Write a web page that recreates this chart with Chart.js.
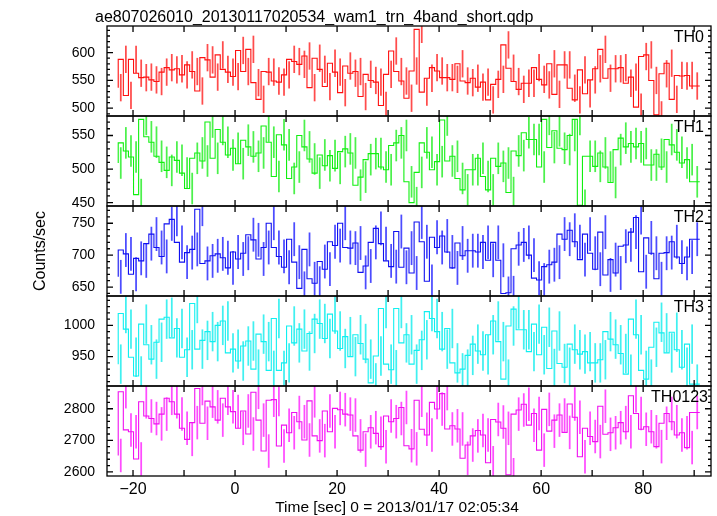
<!DOCTYPE html>
<html>
<head>
<meta charset="utf-8">
<script src="https://cdn.jsdelivr.net/npm/chart.js@4.4.1/dist/chart.umd.min.js"></script>
<style>
  html, body { margin: 0; padding: 0; background: #fff; }
  #wrap { width: 717px; height: 516px; }
</style>
</head>
<body>
<div id="wrap"><canvas id="lc" width="717" height="516"></canvas></div>
<script>
var fileTitle = 'ae807026010_20130117020534_wam1_trn_4band_short.qdp';
var timeLabel = 'Time [sec] 0 = 2013/01/17 02:05:34';
var bandNames = ['TH0', 'TH1', 'TH2', 'TH3', 'TH0123'];

// 1 s bins, first bin starts here
var binStart = -22.9;
var binWidth = 1;

var th0 = [537, 588, 523, 588, 563, 555, 556, 551, 548, 565, 573, 569, 571, 560, 578, 566, 531, 591, 587, 556,
  596, 570, 565, 557, 604, 566, 606, 546, 516, 566, 565, 549, 547, 560, 588, 584, 579, 594, 537, 590,
  570, 539, 581, 565, 528, 576, 563, 566, 521, 561, 550, 547, 505, 561, 603, 566, 549, 518, 567, 642,
  529, 554, 573, 567, 555, 555, 552, 580, 549, 546, 554, 538, 547, 515, 543, 552, 614, 572, 548, 534,
  545, 545, 573, 552, 542, 580, 525, 578, 578, 536, 515, 569, 526, 551, 571, 606, 554, 571, 571, 573,
  545, 556, 502, 593, 596, 550, 488, 562, 581, 516, 559, 558, 559, 540];
var th1 = [509, 539, 527, 518, 462, 574, 548, 540, 519, 510, 498, 518, 513, 494, 471, 516, 524, 512, 570, 516,
  559, 540, 521, 531, 508, 543, 533, 519, 524, 564, 540, 489, 551, 536, 486, 503, 550, 533, 515, 494,
  521, 505, 520, 501, 526, 530, 524, 476, 488, 514, 523, 523, 503, 499, 535, 539, 550, 481, 450, 495,
  539, 525, 499, 511, 573, 512, 519, 486, 469, 499, 499, 516, 489, 469, 516, 504, 509, 465, 527, 520,
  554, 544, 544, 503, 574, 532, 557, 531, 529, 550, 574, 446, 519, 519, 504, 524, 503, 480, 529, 546,
  533, 538, 533, 538, 506, 506, 522, 503, 544, 536, 525, 509, 514, 481];
var th2 = [666, 708, 702, 670, 695, 691, 718, 733, 712, 698, 749, 756, 720, 689, 704, 709, 772, 687, 691, 699,
  702, 696, 680, 705, 694, 703, 732, 724, 694, 712, 750, 712, 698, 681, 725, 689, 648, 709, 663, 656,
  690, 678, 721, 715, 750, 712, 711, 719, 673, 683, 720, 742, 718, 691, 682, 737, 681, 711, 672, 752,
  721, 659, 728, 712, 730, 705, 680, 719, 699, 707, 707, 705, 720, 692, 720, 692, 640, 641, 710, 716,
  720, 700, 664, 661, 682, 685, 689, 733, 725, 739, 721, 693, 733, 703, 678, 736, 669, 693, 672, 714,
  716, 736, 759, 674, 727, 703, 663, 703, 704, 721, 697, 687, 697, 725];
var th3 = [938, 1019, 994, 949, 919, 1002, 969, 946, 973, 1010, 1013, 980, 995, 949, 961, 1035, 962, 976, 990, 974,
  1000, 1007, 956, 962, 943, 967, 975, 930, 986, 974, 928, 1011, 928, 940, 999, 972, 994, 959, 987, 1010,
  1003, 979, 1018, 991, 963, 982, 950, 985, 971, 946, 908, 951, 1027, 938, 929, 1027, 972, 985, 938, 960,
  977, 1022, 1011, 990, 962, 995, 940, 924, 930, 952, 970, 959, 953, 985, 1007, 974, 914, 999, 1026, 993,
  993, 958, 1002, 953, 997, 931, 991, 939, 933, 970, 961, 954, 958, 940, 940, 945, 990, 978, 969, 955,
  922, 1010, 985, 928, 914, 965, 1005, 988, 956, 989, 961, 933, 970, 906];
var th0123 = [2652, 2854, 2733, 2727, 2641, 2822, 2777, 2769, 2752, 2783, 2833, 2822, 2783, 2738, 2703, 2756, 2864, 2754, 2824, 2806,
  2764, 2833, 2806, 2791, 2738, 2793, 2720, 2852, 2764, 2666, 2827, 2829, 2682, 2748, 2724, 2788, 2759, 2701, 2825, 2714,
  2699, 2793, 2727, 2801, 2797, 2783, 2780, 2714, 2669, 2727, 2740, 2722, 2680, 2777, 2759, 2769, 2804, 2683, 2673, 2827,
  2735, 2717, 2820, 2799, 2848, 2736, 2746, 2736, 2643, 2685, 2714, 2731, 2717, 2629, 2766, 2758, 2738, 2591, 2783, 2796,
  2814, 2748, 2785, 2669, 2798, 2729, 2764, 2780, 2725, 2815, 2773, 2648, 2738, 2712, 2696, 2808, 2719, 2724, 2740, 2756,
  2727, 2841, 2785, 2735, 2743, 2727, 2680, 2754, 2785, 2759, 2717, 2724, 2677, 2788];

// half length of the 1-sigma error bars, per band
var errHalf = [24, 23, 26, 31, 52];

var yMin = [486, 445, 636, 903, 2587];
var yMax = [648, 579, 777, 1047, 2872];
var yStep = [50, 50, 50, 50, 100];
var yMinor = [10, 10, 10, 10, 20];
var xMin = -25.1, xMax = 93.3;

var lineColors = ['#ff1010', '#10f010', '#1010f0', '#10f0f0', '#f010f0'];
var errColors = ['rgba(255,0,0,0.7)', 'rgba(0,235,0,0.7)', 'rgba(0,0,255,0.7)', 'rgba(0,235,235,0.75)', 'rgba(255,0,255,0.7)'];
var labelRight = [704, 704, 704, 704, 708];
var fontFamily = '"Liberation Sans", Arial, Helvetica, sans-serif';

var series = [th0, th1, th2, th3, th0123];
var datasets = [];
series.forEach(function(vals, i) {
    var steps = vals.map(function(v, k) { return {x: binStart + k * binWidth, y: v}; });
    steps.push({x: binStart + vals.length * binWidth, y: vals[vals.length - 1]});
    datasets.push({
        type: 'line',
        label: bandNames[i],
        data: steps,
        yAxisID: 'y' + i,
        stepped: 'after',
        borderColor: lineColors[i],
        borderWidth: 1.1,
        pointRadius: 0,
        fill: false,
        order: 0
    });
    datasets.push({
        type: 'bar',
        label: bandNames[i] + ' err',
        data: vals.map(function(v, k) {
            return {x: binStart + (k + 0.5) * binWidth, y: [v - errHalf[i], v + errHalf[i]]};
        }),
        yAxisID: 'y' + i,
        backgroundColor: errColors[i],
        borderWidth: 0,
        barThickness: 1.1,
        grouped: false,
        order: 1
    });
});

var scales = {
    x: {
        type: 'linear',
        min: xMin,
        max: xMax,
        offset: false,
        grid: {display: false, drawTicks: false},
        border: {display: false},
        ticks: {
            stepSize: 20,
            includeBounds: false,
            padding: 4,
            color: '#000',
            font: {family: fontFamily, size: 16},
            callback: function(v) { return v < 0 ? '\u2212' + (-v) : '' + v; }
        },
        afterFit: function(s) { s.height = 40; }
    }
};
// the last stacked axis ends up on top, so add the bottom panel first
for (var i = 4; i >= 0; i--) {
    scales['y' + i] = {
        type: 'linear',
        position: 'left',
        stack: 'bands',
        stackWeight: 1,
        min: yMin[i],
        max: yMax[i],
        grid: {display: false, drawTicks: false},
        border: {display: false},
        ticks: {
            stepSize: yStep[i],
            includeBounds: false,
            autoSkip: false,
            padding: 12,
            color: '#000',
            font: {family: fontFamily, size: 14},
            callback: function(v) { return '' + v; }
        },
        title: {display: i === 2, text: 'Counts/sec', color: '#000', font: {family: fontFamily, size: 16}, padding: {top: 31, bottom: 0}},
        afterFit: function(s) { s.width = 107; }
    };
}

var panelPlugin = {
    id: 'panels',
    beforeDatasetDraw: function(chart, args) {
        var ys = args.meta.yScale, ca = chart.chartArea, ctx = chart.ctx;
        ctx.save();
        ctx.beginPath();
        ctx.rect(ca.left, ys.top, ca.right - ca.left, ys.bottom - ys.top);
        ctx.clip();
    },
    afterDatasetDraw: function(chart) {
        chart.ctx.restore();
    },
    afterDraw: function(chart) {
        var ctx = chart.ctx, ca = chart.chartArea, xs = chart.scales.x;
        ctx.save();
        ctx.strokeStyle = '#000';
        ctx.lineWidth = 1.3;
        for (var i = 0; i < 5; i++) {
            var ys = chart.scales['y' + i];
            var top = ys.top, bot = ys.bottom;
            ctx.strokeRect(ca.left, top, ca.right - ca.left, bot - top);
            ctx.beginPath();
            // y ticks, inside, both sides
            for (var v = Math.ceil(yMin[i] / yMinor[i]) * yMinor[i]; v <= yMax[i]; v += yMinor[i]) {
                var py = ys.getPixelForValue(v);
                var len = v % yStep[i] === 0 ? 6 : 3;
                ctx.moveTo(ca.left, py); ctx.lineTo(ca.left + len, py);
                ctx.moveTo(ca.right, py); ctx.lineTo(ca.right - len, py);
            }
            // x ticks, inside, top and bottom
            for (var t = -20; t <= 90; t += 10) {
                var px = xs.getPixelForValue(t);
                ctx.moveTo(px, top); ctx.lineTo(px, top + 6);
                ctx.moveTo(px, bot); ctx.lineTo(px, bot - 6);
            }
            ctx.stroke();
            ctx.fillStyle = '#000';
            ctx.font = '16px ' + fontFamily;
            ctx.textAlign = 'right';
            ctx.textBaseline = 'alphabetic';
            ctx.fillText(bandNames[i], labelRight[i], top + 16);
        }
        ctx.textAlign = 'left';
        ctx.fillText(fileTitle, 95, 22);
        ctx.font = '15.5px ' + fontFamily;
        ctx.textAlign = 'center';
        ctx.fillText(timeLabel, 397, 512);
        ctx.restore();
    }
};

new Chart(document.getElementById('lc').getContext('2d'), {
    type: 'line',
    data: {datasets: datasets},
    options: {
        responsive: false,
        animation: false,
        events: [],
        layout: {padding: {left: 0, right: 6, top: 26, bottom: 0}},
        plugins: {legend: {display: false}, tooltip: {enabled: false}, title: {display: false}},
        scales: scales
    },
    plugins: [panelPlugin]
});
</script>
</body>
</html>
